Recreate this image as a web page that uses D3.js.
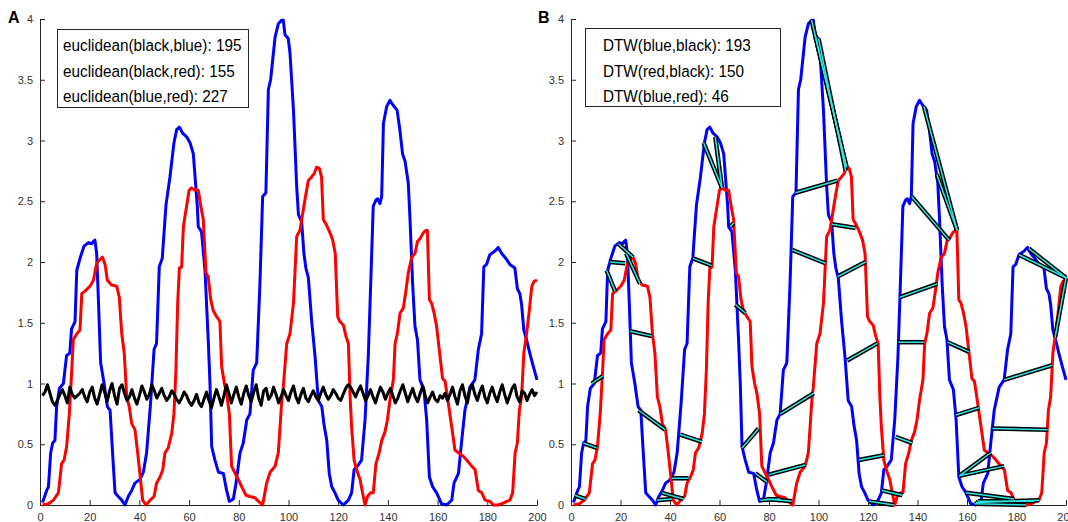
<html>
<script src='https://d3js.org/d3.v7.min.js'></script>
<style>
body {margin: 0; background: white;}
.tick text {font-family: 'Liberation Sans', Arial, sans-serif; font-size: 11px; fill: #333;}
.domain, .tick line {stroke: #262626;}
.legend text {font-family: 'Liberation Sans', Arial, sans-serif; font-size: 17px; fill: #000;}
</style>
<body onload='init()'>
<svg width=1068 height=522></svg>
<script>
// blue series: x positions and values (vertices)
var blueX = [1,2.7,3.4,4.3,5.1,6,6.7,7.8,9.4,10.7,12,12.7,14.1,14.8,16.1,17.7,19.5,20.8,21.5,22.1,22.8,23.5,24.4,25.8,27.1,28.2,29.2,30.2,31.5,32.9,34.2,35.5,36.9,38.2,40.2,41.6,42.9,44.5,45.9,46.9,48,49.2,50.7,52.3,53.9,55,56.1,57.4,59,60.4,61.7,62.4,63.3,63.7,65,66.4,67.7,68.4,69.1,70.4,71.8,73.8,75.1,76.2,77.8,78.9,80.5,81.8,83.2,84.5,85.8,87.2,88.5,89.6,90.9,91.9,92.8,94.6,95.9,97.2,97.9,98.6,99.9,100.6,102,103.3,104,105.3,106.2,107,108,109.3,110.7,112,113.4,114.3,115.4,116.4,117.4,118.7,120,122.1,124.1,125.4,126.4,128.1,129.4,130.8,132.1,133,134.1,135.2,135.9,136.8,137.5,138.2,139.5,140.8,142.1,143.7,144.8,145.9,146.9,148.2,148.9,150,150.9,151.9,152.9,154.5,155.6,156.7,158,159.6,161.6,163.6,165.7,166.6,168.4,169.7,171,173,175,176.4,177.7,178.6,179.7,181,183.1,184.4,185.8,187.8,189.1,191.1,192.1,193.1,193.8,194.7,195.8,197.1,198.5,200];
var blueY = [0.02,0.12,0.15,0.43,0.51,0.53,0.81,0.96,1.0,1.23,1.25,1.45,1.51,1.93,2.03,2.13,2.16,2.15,2.17,2.18,2.07,1.69,1.17,1.0,0.81,0.78,0.43,0.1,0.07,0.04,0,0.07,0.12,0.18,0.21,0.27,0.43,0.84,1.28,1.33,1.96,2.03,2.47,2.70,2.98,3.09,3.11,3.06,3.03,2.98,2.89,2.70,2.46,2.29,2.25,1.93,1.36,1.0,0.48,0.37,0.27,0.26,0.12,0.03,0.05,0.18,0.43,0.51,0.70,0.75,1.11,1.17,1.82,2.54,2.57,3.42,3.50,3.85,3.96,3.99,3.99,3.87,3.84,3.72,3.25,2.62,2.39,2.33,2.07,1.95,1.87,1.52,1.22,0.86,0.81,0.66,0.53,0.26,0.15,0.10,0.04,0,0.04,0.10,0.29,0.33,0.37,0.70,1.22,1.77,2.46,2.51,2.52,2.48,2.54,3.14,3.28,3.33,3.29,3.25,3.09,2.89,2.83,2.65,2.35,1.80,1.47,1.36,1.03,0.95,0.70,0.23,0.15,0.10,0.01,0,0.04,0.18,0.26,0.53,0.78,0.97,1.03,1.28,1.41,1.96,1.98,2.06,2.09,2.12,2.07,2.02,1.98,1.95,1.78,1.74,1.65,1.44,1.36,1.25,1.14,1.03];

// red series
var redX = [1,3.4,5.4,7.4,8.7,9.7,10.7,11.8,12.7,13.4,14.8,16.1,16.8,18.1,20.1,21.5,22.8,24.1,25.1,26.2,27.1,28.8,30.9,31.9,32.9,33.9,34.9,35.9,36.9,38.2,39.2,40.2,41.3,42.7,44.3,45.9,46.9,48.3,49.4,50.3,51.6,53,53.9,54.7,55.4,56.1,57,57.7,58.3,59,60,61,62.4,63.7,64.7,65.7,66.8,67.7,68.7,69.7,71.1,72.4,73.1,74.2,75.1,76.2,77.1,78.5,79.8,81.2,82.9,84.5,86.5,87.9,89.6,91.2,92.6,94.6,95.9,97.3,97.9,99.3,100.6,102,103.3,104.6,106.2,107.1,108,109.3,110.4,111.3,112.4,113.3,114,115.4,116.7,117.8,118.8,119.8,120.7,122.1,123.1,124.1,124.8,125.4,126.4,127.4,128.8,129.8,130.8,131.8,133,134.1,135.2,136.5,137.5,138.8,139.8,140.8,142.2,142.9,143.8,144.9,146.2,147.3,148.2,149.6,150.9,151.9,152.9,154.2,155.3,155.9,156.7,157.6,158.6,159.6,161,162,163,164.3,165.7,167,168.4,170.4,171.7,173.3,175.1,176.4,177.8,179.1,181.1,182.4,184.4,185.8,187.8,189.1,190.2,191.2,192.1,192.9,193.8,194.7,195.8,196.9,197.9,198.8,200];
var redY = [0,0.01,0.04,0.10,0.34,0.37,0.48,0.75,1.08,1.36,1.41,1.44,1.74,1.76,1.80,1.85,1.99,2.02,2.04,1.98,1.85,1.81,1.80,1.71,1.41,1.25,0.89,0.81,0.67,0.62,0.45,0.26,0.04,0,0.04,0.07,0.18,0.23,0.29,0.43,0.47,0.59,0.75,1.11,1.66,1.95,1.96,2.29,2.37,2.46,2.59,2.61,2.59,2.59,2.46,2.35,1.91,1.88,1.69,1.60,1.55,1.51,1.14,1.0,0.92,0.75,0.32,0.26,0.21,0.15,0.08,0.07,0.06,0.03,0,0.18,0.27,0.32,0.43,0.86,0.97,1.33,1.41,1.66,2.21,2.26,2.46,2.57,2.67,2.70,2.73,2.78,2.77,2.70,2.35,2.30,2.24,2.18,2.07,1.55,1.51,1.48,1.39,1.33,0.89,0.64,0.37,0.29,0.21,0.10,0,0.07,0.10,0.10,0.34,0.43,0.53,0.60,0.70,0.86,1.03,1.33,1.41,1.58,1.62,1.77,1.91,2.04,2.07,2.17,2.19,2.24,2.26,2.26,1.69,1.66,1.58,1.47,1.22,1.04,1.02,0.84,0.64,0.45,0.43,0.40,0.37,0.33,0.29,0.12,0.10,0.04,0.03,0,0,0.01,0.03,0.04,0.10,0.43,0.51,0.78,0.89,1.25,1.41,1.60,1.80,1.84,1.85];

// black series, one value per sample 1..200
var blackY = [
0.90,0.93,0.99,0.92,0.85,0.82,0.86,0.91,0.95,0.90,0.84,0.97,0.91,0.88,0.90,0.92,0.95,0.89,0.85,0.93,
0.97,0.88,0.83,0.91,0.99,0.93,0.85,0.94,1.00,0.90,0.83,0.96,0.99,0.92,0.86,0.89,0.95,0.88,0.83,0.90,
0.98,0.93,0.87,0.91,0.99,0.94,0.88,0.92,0.96,0.90,0.86,0.89,0.94,0.91,0.87,0.84,0.88,0.93,0.90,0.85,
0.82,0.86,0.91,0.84,0.81,0.87,0.93,0.86,0.80,0.88,0.95,0.89,0.82,0.90,0.99,0.92,0.84,0.91,0.97,0.89,
0.83,0.92,0.98,0.90,0.85,0.93,0.99,0.88,0.82,0.94,0.96,0.87,0.90,0.97,0.91,0.84,0.89,0.95,0.90,0.86,
0.93,0.98,0.89,0.84,0.91,0.96,0.88,0.85,0.90,0.94,0.89,0.86,0.92,0.97,0.91,0.87,0.90,0.95,0.92,0.88,
0.86,0.91,0.96,0.99,0.97,0.93,0.89,0.94,0.98,0.92,0.86,0.90,0.95,0.89,0.84,0.91,0.97,0.93,0.87,0.92,
0.96,0.90,0.84,0.88,0.94,0.99,0.92,0.85,0.91,0.96,0.89,0.85,0.92,0.98,0.90,0.84,0.89,0.93,0.87,0.85,
0.90,0.88,0.92,0.86,0.91,0.97,0.89,0.83,0.94,0.99,0.90,0.84,0.95,0.99,0.91,0.86,0.93,0.98,0.89,0.84,
0.92,0.97,0.90,0.85,0.93,0.99,0.91,0.84,0.90,0.96,0.99,0.89,0.85,0.94,0.92,0.86,0.91,0.95,0.90,0.93];

// DTW links: point on blue (x, y) joined to point on red (x, y)
var linkBlueX = [1.5,5,8.4,14.4,15.8,19.2,22.3,23.9,27.3,34.7,36.7,40.8,44.1,49.3,53.6,58.3,64.4,66.4,69.1,74.5,76.5,79.2,79.9,84.6,89.3,90.7,97.2,98.6,100,105.5,107.7,111.6,116.3,120.4,125.6,131.2,132.3,132.9,137.6,142.6,147.8,152.1,155.5,156.9,156.9,159.6,163,163.6,164.5,170.3,175,181,185,195.6];
var linkBlueY = [0.08,0.51,1.00,1.93,2.00,2.15,2.07,1.43,0.78,0.04,0.10,0.22,0.58,2.03,2.98,3.03,2.29,1.65,0.47,0.26,0.04,0.05,0.25,0.75,2.10,2.57,3.99,3.87,3.84,2.31,1.88,1.19,0.37,0.03,0.12,0.56,1.34,1.71,2.54,3.28,2.72,1.34,0.74,0.24,0.24,0.10,0.01,0.02,0.03,0.63,1.03,2.06,2.11,1.38];
var linkRedX  = [5.7,10.4,12.8,17.8,21.9,25,27.9,32.7,38,40.8,45.5,47.5,52.9,56.9,61,61,65.7,70.4,75.8,79.2,84.6,89.3,94.7,98.1,102.8,107.6,111.3,111.3,111,115,119,123.8,126.4,130.5,133.9,137.9,142.6,148,152.8,156,156,160.9,164.9,169.6,175,179,183.8,189.2,187,192.5,194.4,200,200,200];
var linkRedY  = [0.05,0.47,1.06,1.76,1.99,2.04,1.82,1.39,0.62,0.05,0.05,0.22,0.52,1.97,2.61,2.61,2.32,1.58,0.63,0.19,0.05,0.03,0.33,0.92,1.99,2.67,2.78,2.78,2.75,2.28,2.00,1.33,0.41,0.00,0.08,0.51,1.34,1.82,2.18,2.26,2.26,1.26,0.80,0.43,0.32,0.05,0.00,0.04,0.03,0.62,1.15,1.87,1.87,1.87];

var yTicks = [0,0.5,1,1.5,2,2.5,3,3.5,4];
var xTicks = [0,20,40,60,80,100,120,140,160,180,200];
var legendA = ["euclidean(black,blue): 195", "euclidean(black,red): 155", "euclidean(blue,red): 227"];
var legendB = ["DTW(blue,black): 193", "DTW(red,black): 150", "DTW(blue,red): 46"];

function init() {
  var svg = d3.select("svg");
  var y = d3.scaleLinear().domain([0, 4]).range([505, 19]);

  function panel(x0, x1, label, legend, box, textX) {
    var x = d3.scaleLinear().domain([0, 200]).range([x0, x1]);
    var g = svg.append("g");
    g.append("g").attr("transform", "translate(0,505)")
      .call(d3.axisBottom(x).tickValues(xTicks).tickSizeInner(-5).tickSizeOuter(0).tickPadding(8));
    g.append("g").attr("transform", "translate(" + x0 + ",0)")
      .call(d3.axisLeft(y).tickValues(yTicks).tickFormat(d3.format("~g")).tickSizeInner(-5).tickSizeOuter(0).tickPadding(7));
    svg.append("text").attr("x", label[1]).attr("y", 23).text(label[0])
      .style("font-family", "'Liberation Sans', Arial, sans-serif").style("font-weight", "bold").style("font-size", "16px");
    var lg = svg.append("g").attr("class", "legend");
    lg.append("rect").attr("x", box[0]).attr("y", box[1]).attr("width", box[2]).attr("height", box[3])
      .attr("fill", "white").attr("stroke", "#262626").attr("stroke-width", 1);
    // the original font is narrow, squeeze the text sideways
    lg.selectAll("text").data(legend).enter().append("text")
      .attr("transform", function(d, i) { return "translate(" + textX + "," + (51 + i * 25.5) + ") scale(0.9,1)"; })
      .text(function(d) { return d; });
    return x;
  }

  function curve(x, xs, ys, color) {
    var line = d3.line().x(function(d) { return x(d[0]); }).y(function(d) { return y(d[1]); });
    svg.append("path").datum(xs.map(function(v, i) { return [v, ys[i]]; }))
      .attr("d", line).attr("fill", "none").attr("stroke", color)
      .attr("stroke-width", 3).attr("stroke-linejoin", "round");
  }

  // panel A
  var xa = panel(40, 537, ["A", 8], legendA, [57.5, 29.5, 191, 78], 63);
  curve(xa, blueX, blueY, "#0000ff");
  curve(xa, redX, redY, "#ff0000");
  curve(xa, blackY.map(function(d, i) { return i + 1; }), blackY, "#000000");

  // panel B
  var xb = panel(571, 1066, ["B", 538], legendB, [585.5, 28.5, 195, 78], 603);
  curve(xb, blueX, blueY, "#0000ff");
  curve(xb, redX, redY, "#ff0000");

  var links = linkBlueX.map(function(b, i) {
    return [xb(b), y(linkBlueY[i]), xb(linkRedX[i]), y(linkRedY[i])];
  });
  var lk = svg.append("g");
  lk.selectAll("line.o").data(links).enter().append("line").attr("class", "o")
    .attr("x1", function(d) { return d[0]; }).attr("y1", function(d) { return d[1]; })
    .attr("x2", function(d) { return d[2]; }).attr("y2", function(d) { return d[3]; })
    .attr("stroke", "black").attr("stroke-width", 4.5);
  lk.selectAll("line.i").data(links).enter().append("line").attr("class", "i")
    .attr("x1", function(d) { return d[0]; }).attr("y1", function(d) { return d[1]; })
    .attr("x2", function(d) { return d[2]; }).attr("y2", function(d) { return d[3]; })
    .attr("stroke", "#2ee6e6").attr("stroke-width", 1.5);
}
</script>
</body>
</html>
